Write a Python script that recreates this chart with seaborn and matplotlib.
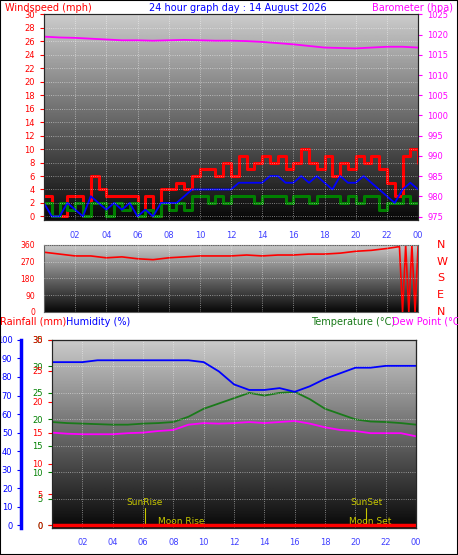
import numpy as np
import pandas as pd
import seaborn as sns
import matplotlib.pyplot as plt

sns.set_style("white")
plt.rcParams['font.family'] = ['DejaVu Sans']
plt.rcParams['font.size'] = 6

# ---- data ----
half_hours = np.arange(0, 24.5, 0.5)
wind_gust = [3, 0, 0, 3, 3, 0, 6, 4, 3, 3, 3, 3, 0, 3, 0, 4, 4, 5, 4, 6, 7, 7, 6, 8, 6, 9, 7, 8, 9, 8,
             9, 7, 8, 10, 8, 7, 9, 6, 8, 7, 9, 8, 9, 7, 5, 3, 9, 10, 8]
wind_avg = [2, 0, 0, 2, 1, 0, 3, 2, 1, 2, 1, 2, 0, 1, 0, 2, 2, 2, 3, 4, 4, 4, 4, 4, 4, 5, 5, 5, 5, 6,
            6, 5, 5, 6, 5, 6, 5, 4, 6, 5, 5, 6, 5, 4, 3, 2, 4, 5, 4]
wind_low = [2, 0, 2, 1, 2, 0, 2, 2, 0, 2, 1, 2, 0, 1, 0, 2, 1, 2, 1, 3, 3, 2, 3, 2, 3, 3, 3, 2, 3, 3,
            3, 2, 3, 3, 2, 3, 3, 3, 2, 3, 2, 3, 3, 1, 2, 2, 3, 2, 2]

hours = np.arange(0, 25)
barometer = [1019.5, 1019.3, 1019.2, 1019.0, 1018.8, 1018.6, 1018.6, 1018.5, 1018.6, 1018.7, 1018.6,
             1018.5, 1018.5, 1018.4, 1018.2, 1017.9, 1017.6, 1017.2, 1016.8, 1016.7, 1016.6, 1016.8,
             1017.0, 1017.0, 1016.8]

dir_hours = [0, 1, 2, 3, 4, 5, 6, 7, 8, 9, 10, 11, 12, 13, 14, 15, 16, 17, 18, 19, 20, 21, 22,
             22.8, 23.0, 23.2, 23.4, 23.6, 23.8, 24]
direction = [320, 310, 300, 300, 290, 295, 285, 280, 290, 295, 300, 300, 300, 305, 300, 305, 305,
             310, 310, 315, 325, 330, 340, 350, 0, 360, 0, 360, 0, 360]

humidity = [88, 88, 88, 89, 89, 89, 89, 89, 89, 89, 88, 83, 76, 73, 73, 74, 72, 75, 79, 82, 85, 85,
            86, 86, 86]
temperature = [19.5, 19.3, 19.2, 19.1, 19.0, 19.0, 19.2, 19.3, 19.5, 20.5, 22.0, 23.0, 24.0, 25.0,
               24.5, 25.0, 25.2, 23.8, 22.0, 21.0, 20.0, 19.6, 19.5, 19.3, 19.0]
dew_point = [17.5, 17.3, 17.2, 17.2, 17.2, 17.4, 17.5, 17.8, 18.0, 19.0, 19.3, 19.2, 19.3, 19.5,
             19.3, 19.5, 19.7, 19.2, 18.5, 18.0, 17.8, 17.4, 17.4, 17.4, 16.8]
rainfall = [0] * 25

hour_ticks = [2, 4, 6, 8, 10, 12, 14, 16, 18, 20, 22, 24]
hour_labels = ["02", "04", "06", "08", "10", "12", "14", "16", "18", "20", "22", "00"]

fig = plt.figure(figsize=(4.58, 5.55), dpi=100)
fig.patches.append(plt.Rectangle((0, 0), 1, 1, transform=fig.transFigure, fill=False,
                                 edgecolor='black', linewidth=1.5))


def background(ax, y0, y1):
    grad = np.linspace(0.8, 0.03, 256).reshape(-1, 1)
    ax.imshow(grad, cmap='gray', vmin=0, vmax=1, aspect='auto', extent=(0, 24, y0, y1),
              zorder=0, origin='upper')
    ax.set_xlim(0, 24)
    ax.set_ylim(y0, y1)
    ax.grid(True, color='white', linestyle=':', linewidth=0.6, alpha=0.6)
    ax.set_axisbelow(False)
    ax.set_xticks(hour_ticks)
    ax.set_xticklabels(hour_labels, color='#4040ff')


# ---- top panel: wind + barometer ----
ax1 = fig.add_axes([0.096, 0.604, 0.817, 0.37])
background(ax1, -0.5, 30)
wind = pd.DataFrame({"t": half_hours, "gust": wind_gust, "avg": wind_avg, "low": wind_low})
sns.lineplot(data=wind, x="t", y="gust", ax=ax1, color='red', drawstyle='steps-post', lw=2.2)
sns.lineplot(data=wind, x="t", y="low", ax=ax1, color='green', drawstyle='steps-post', lw=2.2)
sns.lineplot(data=wind, x="t", y="avg", ax=ax1, color='blue', lw=1.3)
ax1.set_yticks(range(0, 31, 2))
ax1.tick_params(axis='y', colors='red', labelsize=6, length=3)
ax1.set_xlabel("")
ax1.set_ylabel("")
ax1.set_xticklabels([])
axb = ax1.twinx()
sns.lineplot(x=hours, y=barometer, ax=axb, color='magenta', lw=1.3)
axb.set_ylim(974.2, 1025)
axb.set_yticks(range(975, 1026, 5))
axb.tick_params(axis='y', colors='magenta', labelsize=6, length=3)
ax1.set_xticks(hour_ticks)
for h, lab in zip(hour_ticks, hour_labels):
    ax1.text(h, -3.2, lab, color='#4040ff', ha='center', fontsize=6)
fig.text(0.01, 0.995, "Windspeed (mph)", color='red', fontsize=7, va='top')
fig.text(0.52, 0.995, "24 hour graph day : 14 August 2026", color='blue', fontsize=7, va='top', ha='center')
fig.text(0.99, 0.995, "Barometer (hpa)", color='magenta', fontsize=7, va='top', ha='right')

# ---- middle panel: wind direction ----
ax2 = fig.add_axes([0.096, 0.438, 0.817, 0.121])
background(ax2, 0, 360)
sns.lineplot(x=dir_hours, y=direction, ax=ax2, color='red', lw=1.2)
ax2.set_yticks([0, 90, 180, 270, 360])
ax2.tick_params(axis='y', colors='red', labelsize=5.5, length=3)
ax2.set_xticklabels([])
ax2.tick_params(axis='x', length=0)
for val, lab in zip([0, 90, 180, 270, 360], ["N", "E", "S", "W", "N"]):
    ax2.text(25.2, val, lab, color='red', fontsize=8, va='center')

# ---- bottom panel: temperature, dew point, humidity, rain ----
ax3 = fig.add_axes([0.1135, 0.0486, 0.795, 0.339])
background(ax3, -0.5, 35)
sns.lineplot(x=hours, y=temperature, ax=ax3, color='#1a7a1a', lw=1.3)
sns.lineplot(x=hours, y=dew_point, ax=ax3, color='magenta', lw=1.3)
ax3.set_yticks(range(0, 36, 5))
ax3.yaxis.tick_right()
ax3.tick_params(axis='y', colors='green', labelsize=6, length=3, left=False, labelleft=False)
ax3.tick_params(axis='x', labelsize=6)

axh = ax3.twinx()
sns.lineplot(x=hours, y=humidity, ax=axh, color='blue', lw=1.3)
axh.set_ylim(-0.5 * 100 / 35, 100)
axh.set_yticks(range(0, 101, 10))
axh.yaxis.set_ticks_position('left')
axh.yaxis.set_label_position('left')
axh.spines['left'].set_visible(True)
axh.spines['left'].set_position(('outward', 22))
axh.spines['left'].set_color('blue')
axh.spines['left'].set_linewidth(2.5)
axh.tick_params(axis='y', colors='blue', labelsize=6, length=3, right=False, labelright=False,
                left=True, labelleft=True)
axh.set_ylabel("")

axr = ax3.twinx()
sns.lineplot(x=hours, y=rainfall, ax=axr, color='red', lw=2.5)
axr.set_ylim(-0.5 * 30 / 35, 30)
axr.set_yticks(range(0, 31, 5))
axr.yaxis.set_ticks_position('left')
axr.tick_params(axis='y', colors='red', labelsize=6, length=3, right=False, labelright=False,
                left=True, labelleft=True)
axr.set_ylabel("")

for x, y, lab in [(6.1, 3.5, "SunRise"), (20.7, 3.5, "SunSet"), (8.5, -0.2, "Moon Rise"), (21.0, -0.2, "Moon Set")]:
    ax3.text(x, y, lab, color='#c8c800', fontsize=6.5, ha='center', va='bottom', zorder=5)
ax3.plot([6.1, 6.1], [0, 3.3], color='#c8c800', lw=0.8)
ax3.plot([20.7, 20.7], [0, 3.3], color='#c8c800', lw=0.8)
fig.text(0.0, 0.415, "Rainfall (mm)", color='red', fontsize=7)
fig.text(0.145, 0.415, "Humidity (%)", color='blue', fontsize=7)
fig.text(0.68, 0.415, "Temperature (°C)", color='#1a7a1a', fontsize=7)
fig.text(0.855, 0.415, "Dew Point (°C)", color='magenta', fontsize=7)

for a in [ax1, ax2, ax3]:
    for s in a.spines.values():
        s.set_color('#606060')

fig.savefig("out.png", dpi=100)
